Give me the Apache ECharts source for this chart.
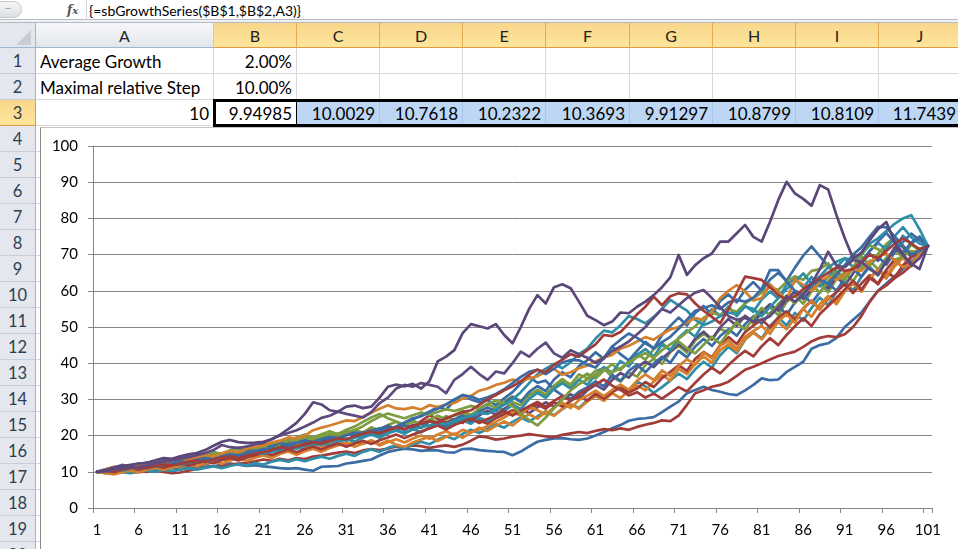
<!DOCTYPE html>
<html>
<head>
<meta charset="utf-8">
<script src="https://cdn.jsdelivr.net/npm/echarts/dist/echarts.min.js"></script>
<style>
  html,body{margin:0;padding:0;}
  body{width:958px;height:549px;overflow:hidden;position:relative;background:#fff;font-family:Lato,"Open Sans",sans-serif;}
  .a{position:absolute;box-sizing:border-box;}
  .colh{top:23px;height:25px;line-height:25px;text-align:center;font-size:16px;color:#222;border-right:1px solid #c3cbd5;border-bottom:1px solid #9eb6ce;background:linear-gradient(#f6f7f9,#e2e6eb);}
  .colh.sel{background:linear-gradient(#f9d68a,#fde59c);border-right:1px solid #e2aa55;border-bottom:1px solid #e09b3c;}
  .rowh{left:0;width:36px;height:26px;line-height:26px;text-align:center;font-size:16.5px;color:#2f3d50;background:#e4e8ee;border-bottom:1px solid #c6ced9;border-right:1px solid #9eb6ce;}
  .rowh.sel{background:linear-gradient(#f9d68a,#fde59c);border-bottom:1px solid #e09b3c;border-right:1px solid #e09b3c;}
  .cell{height:26px;line-height:27px;font-size:17px;color:#000;border-right:1px solid #d8d8d8;border-bottom:1px solid #d8d8d8;white-space:nowrap;overflow:hidden;}
  .r{text-align:right;padding-right:4px;}
  .l{text-align:left;padding-left:4px;}
  .blue{background:#bcd6f4;border-right:1px solid #a9c4e6;}
</style>
</head>
<body>
<!-- formula bar -->
<div class="a" style="left:0;top:0;width:958px;height:20px;background:#fff;border-bottom:1px solid #b7bcc4;"></div>
<div class="a" style="left:-10px;top:1px;width:32px;height:17px;border-radius:9px;border:1px solid #c2c6cc;background:linear-gradient(#f7f7f7,#dcdfe3);"></div>
<div class="a" style="left:5px;top:8px;width:6px;height:1px;background:#aab0b8;"></div>
<div class="a" style="left:86px;top:0;width:1px;height:20px;background:#d2d6dc;"></div>
<div class="a" style="left:67px;top:0px;height:20px;line-height:20px;font-family:'DejaVu Serif',serif;font-style:italic;font-weight:bold;font-size:12px;color:#555;">f<span style="font-size:10px">x</span></div>
<div class="a" style="left:89px;top:0px;height:20px;line-height:21px;font-size:14px;color:#000;white-space:nowrap;">{=sbGrowthSeries($B$1,$B$2,A3)}</div>
<div class="a" style="left:0;top:20px;width:958px;height:3px;background:#eef0f3;border-bottom:1px solid #b3b9c2;"></div>

<!-- corner -->
<div class="a" style="left:0;top:23px;width:36px;height:25px;background:#e4e8ee;border-right:1px solid #9eb6ce;border-bottom:1px solid #9eb6ce;"></div>
<div class="a" style="left:16px;top:30px;width:0;height:0;border-left:15px solid transparent;border-bottom:15px solid #c9cdd3;"></div>

<!-- column headers -->
<div class="a colh" style="left:36px;width:178px;">A</div>
<div class="a colh sel" style="left:214px;width:83px;">B</div>
<div class="a colh sel" style="left:297px;width:83px;">C</div>
<div class="a colh sel" style="left:380px;width:83px;">D</div>
<div class="a colh sel" style="left:463px;width:83px;">E</div>
<div class="a colh sel" style="left:546px;width:84px;">F</div>
<div class="a colh sel" style="left:630px;width:83px;">G</div>
<div class="a colh sel" style="left:713px;width:83px;">H</div>
<div class="a colh sel" style="left:796px;width:83px;">I</div>
<div class="a colh sel" style="left:879px;width:83px;">J</div>

<!-- row headers -->
<div class="a rowh" style="top:48px;">1</div>
<div class="a rowh" style="top:74px;">2</div>
<div class="a rowh sel" style="top:100px;">3</div>
<div class="a rowh" style="top:126px;">4</div>
<div class="a rowh" style="top:152px;">5</div>
<div class="a rowh" style="top:178px;">6</div>
<div class="a rowh" style="top:204px;">7</div>
<div class="a rowh" style="top:230px;">8</div>
<div class="a rowh" style="top:256px;">9</div>
<div class="a rowh" style="top:282px;">10</div>
<div class="a rowh" style="top:308px;">11</div>
<div class="a rowh" style="top:334px;">12</div>
<div class="a rowh" style="top:360px;">13</div>
<div class="a rowh" style="top:386px;">14</div>
<div class="a rowh" style="top:412px;">15</div>
<div class="a rowh" style="top:438px;">16</div>
<div class="a rowh" style="top:464px;">17</div>
<div class="a rowh" style="top:490px;">18</div>
<div class="a rowh" style="top:516px;">19</div>
<div class="a rowh" style="top:542px;">20</div>

<!-- row 1 -->
<div class="a cell l" style="left:36px;top:48px;width:178px;">Average Growth</div>
<div class="a cell r" style="left:214px;top:48px;width:83px;">2.00%</div>
<div class="a cell" style="left:297px;top:48px;width:83px;"></div>
<div class="a cell" style="left:380px;top:48px;width:83px;"></div>
<div class="a cell" style="left:463px;top:48px;width:83px;"></div>
<div class="a cell" style="left:546px;top:48px;width:84px;"></div>
<div class="a cell" style="left:630px;top:48px;width:83px;"></div>
<div class="a cell" style="left:713px;top:48px;width:83px;"></div>
<div class="a cell" style="left:796px;top:48px;width:83px;"></div>
<div class="a cell" style="left:879px;top:48px;width:83px;"></div>
<!-- row 2 -->
<div class="a cell l" style="left:36px;top:74px;width:178px;">Maximal relative Step</div>
<div class="a cell r" style="left:214px;top:74px;width:83px;">10.00%</div>
<div class="a cell" style="left:297px;top:74px;width:83px;"></div>
<div class="a cell" style="left:380px;top:74px;width:83px;"></div>
<div class="a cell" style="left:463px;top:74px;width:83px;"></div>
<div class="a cell" style="left:546px;top:74px;width:84px;"></div>
<div class="a cell" style="left:630px;top:74px;width:83px;"></div>
<div class="a cell" style="left:713px;top:74px;width:83px;"></div>
<div class="a cell" style="left:796px;top:74px;width:83px;"></div>
<div class="a cell" style="left:879px;top:74px;width:83px;"></div>
<!-- row 3 -->
<div class="a cell r" style="left:36px;top:100px;width:178px;">10</div>
<div class="a cell r" style="left:214px;top:100px;width:83px;border-right:1px solid #000;">9.94985</div>
<div class="a cell r blue" style="left:297px;top:100px;width:83px;">10.0029</div>
<div class="a cell r blue" style="left:380px;top:100px;width:83px;">10.7618</div>
<div class="a cell r blue" style="left:463px;top:100px;width:83px;">10.2322</div>
<div class="a cell r blue" style="left:546px;top:100px;width:84px;">10.3693</div>
<div class="a cell r blue" style="left:630px;top:100px;width:83px;">9.91297</div>
<div class="a cell r blue" style="left:713px;top:100px;width:83px;">10.8799</div>
<div class="a cell r blue" style="left:796px;top:100px;width:83px;">10.8109</div>
<div class="a cell r blue" style="left:879px;top:100px;width:83px;padding-right:5px;">11.7439</div>
<!-- selection outline -->
<div class="a" style="left:213px;top:99px;width:760px;height:28px;border:3px solid #000;"></div>

<!-- sheet gridlines under chart area (left strip) -->
<div class="a" style="left:36px;top:126px;width:4px;height:423px;background:repeating-linear-gradient(to bottom,#fff 0,#fff 25px,#d8d8d8 25px,#d8d8d8 26px);"></div>

<!-- chart object -->
<div class="a" style="left:40px;top:127px;width:930px;height:430px;background:#fff;border-left:1px solid #8a8a8a;border-top:1px solid #c4c4c4;"></div>
<div id="chart" class="a" style="left:41px;top:128px;width:917px;height:421px;"></div>

<script>
// ---------- data ----------
const categories = [];
for (let k = 1; k <= 101; k++) categories.push(String(k));

const yMin = 0, yMax = 100, yStep = 10;

const purpleA = [10,10.4,11.2,11.5,11.9,12.3,12.5,13.2,13.8,13.6,
14.3,14.8,15.2,16.0,17.2,18.3,18.8,18.2,18.0,18.1,
18.3,19.0,20.2,21.8,23.5,26.0,29.2,28.6,27.0,26.6,
28.0,28.3,27.6,28.0,30.5,33.5,34.1,33.6,34.3,33.0,
35.0,40.5,41.8,43.6,48.3,50.8,50.2,49.6,50.8,47.8,
45.5,50.0,55.0,58.8,56.5,61.0,61.8,60.7,57.0,53.1,
51.9,50.5,51.5,54.0,53.8,55.6,57.0,58.8,61.0,63.7,
69.9,64.4,67.1,69.0,70.3,73.6,73.6,75.9,78.2,74.9,
73.6,79.1,85.1,90.1,86.9,85.4,83.5,89.2,88.0,80.9,
74.5,69.0,70.5,74.0,77.0,79.0,73.5,70.0,67.5,66.0,72.4];

const purpleB = [10,10.2,10.6,11.0,11.3,11.4,11.8,12.4,12.8,13.2,
13.6,14.0,14.6,15.2,16.0,17.4,16.8,16.6,17.0,17.6,
18.0,19.0,20.0,20.7,21.5,22.5,23.6,24.9,25.5,26.6,
26.0,25.5,25.0,26.5,29.0,30.5,33.0,34.0,33.5,34.5,
34.0,33.5,31.7,35.4,37.0,39.0,37.0,35.4,37.7,37.2,
40.0,43.2,41.8,44.0,45.7,42.7,41.5,43.6,42.5,41.5,
40.1,41.5,43.3,44.6,46.0,48.0,50.0,52.5,55.0,54.0,
56.0,58.0,59.5,60.2,58.0,55.5,53.0,52.0,52.5,51.5,
52.0,53.0,55.5,58.5,57.0,59.0,62.0,66.0,70.8,67.0,
66.5,68.5,68.0,66.0,64.5,68.0,72.0,70.0,67.0,69.0,72.4];

const redA = [10,10.3,10.1,10.6,11.0,11.3,11.1,11.6,12.0,11.8,
12.2,12.8,13.1,12.7,13.4,13.9,14.3,13.8,14.5,15.0,
15.4,16.0,16.8,16.4,17.0,17.5,18.2,17.8,18.5,19.2,
19.0,19.8,20.5,21.0,20.6,21.5,22.3,21.8,22.6,23.4,
24.0,23.5,24.8,25.6,26.5,27.0,28.5,30.0,31.2,32.5,
33.6,35.0,36.8,38.2,37.5,39.6,41.0,42.5,41.8,43.6,
45.2,47.8,47.5,48.6,51.0,53.5,55.6,58.4,56.0,58.5,
59.3,59.0,56.5,54.5,52.8,51.0,55.0,59.5,63.9,63.5,
63.0,61.0,58.8,57.5,58.5,60.5,62.0,63.5,65.0,66.5,
65.5,66.0,68.0,70.0,69.0,71.0,73.0,74.5,73.0,71.5,72.4];

const orangeA = [10,10.6,11.4,11.1,10.8,11.5,12.0,12.6,12.3,12.9,
13.5,13.2,14.0,14.6,14.2,15.1,15.8,15.4,16.3,17.0,
17.3,18.1,18.6,19.5,19.2,20.0,21.5,22.2,22.8,23.5,
24.2,24.0,25.2,26.3,27.4,28.4,27.5,27.3,27.8,27.2,
28.4,27.9,28.6,29.0,30.2,31.0,32.4,33.0,34.0,34.6,
35.5,35.0,35.8,36.4,37.6,38.4,36.8,37.5,38.6,39.4,
40.5,41.6,42.3,44.0,44.8,46.0,47.2,46.5,48.0,49.3,
50.0,51.2,52.5,52.0,54.2,58.0,60.0,61.6,59.8,57.3,
58.0,61.8,59.5,57.5,63.2,61.6,60.0,62.5,64.0,63.0,
64.5,66.0,65.5,68.0,69.5,70.3,68.5,66.5,67.5,70.0,72.4];

const blueA = [10,10.4,10.2,10.9,11.3,11.0,11.6,12.1,11.8,12.4,
12.9,12.6,13.3,13.8,13.4,14.2,14.8,14.5,15.2,15.8,
16.0,16.6,16.3,17.2,17.9,18.5,18.2,19.0,19.6,19.3,
20.1,20.8,20.5,21.3,22.0,21.6,22.5,23.6,24.8,25.3,
26.5,27.4,28.6,30.0,31.2,30.8,29.9,30.6,31.5,32.8,
34.5,36.2,37.6,38.2,37.0,38.5,40.2,40.9,40.8,39.6,
38.8,41.5,44.6,46.5,48.2,47.0,45.5,44.2,45.8,47.3,
49.5,52.0,54.5,55.2,56.0,55.0,56.8,57.5,57.0,58.1,
60.5,65.7,65.7,62.5,60.0,59.0,61.5,63.0,62.0,64.5,
67.0,70.0,72.0,75.0,77.7,77.5,75.0,72.5,70.0,71.0,72.4];

const tealA = [10,10.1,10.5,10.3,10.8,11.2,11.0,11.5,11.9,12.3,
12.0,12.6,13.0,12.7,13.3,13.9,14.4,14.0,14.6,15.3,
15.0,15.6,16.1,16.8,16.4,17.2,17.8,17.5,18.3,18.9,
18.6,19.4,19.9,20.5,20.1,20.8,21.4,20.9,21.7,22.3,
22.8,23.5,23.2,24.0,24.8,25.5,26.3,26.0,27.2,28.5,
30.0,32.0,34.5,37.0,38.5,39.8,38.6,40.3,42.5,44.0,
46.8,49.0,48.5,50.5,53.0,52.2,51.0,52.8,55.0,57.5,
56.0,54.5,52.0,50.5,51.5,53.0,54.0,53.5,55.6,55.0,
53.0,55.5,58.0,60.5,62.5,64.8,62.0,64.0,66.5,68.0,
69.0,68.5,70.5,73.0,74.5,76.5,78.5,80.0,80.9,77.0,72.4];

const greenA = [10,10.5,10.9,11.4,11.1,11.8,12.2,11.9,12.6,13.1,
13.6,13.3,14.1,14.7,15.3,15.0,15.8,16.4,16.9,16.5,
17.2,17.8,18.4,19.1,18.7,19.5,18.9,19.8,20.4,20.0,
20.8,21.5,22.6,24.0,25.2,26.1,25.4,24.8,25.6,26.4,
25.8,26.5,27.3,26.8,27.5,28.2,27.6,28.8,29.6,29.0,
28.2,26.0,24.3,22.8,25.0,27.5,30.0,32.5,34.2,35.5,
36.8,38.3,37.5,38.6,40.2,41.6,42.8,41.5,43.6,45.2,
46.8,48.6,50.2,52.5,54.0,53.2,55.0,54.2,56.5,58.0,
59.5,61.0,60.2,62.5,64.0,63.0,65.5,66.0,67.6,64.0,
63.0,66.5,70.0,72.6,71.5,70.0,68.5,69.5,71.0,70.5,72.4];

const redLow = [10,10.2,10.4,10.1,9.8,9.9,10.1,10.3,10.0,9.6,
9.8,10.3,10.8,11.2,11.6,11.4,11.9,12.3,12.5,12.9,
13.4,13.0,13.6,13.2,13.8,13.5,14.2,14.5,14.9,15.3,
15.6,15.2,15.9,16.3,16.0,16.4,17.0,16.8,17.3,17.1,
16.6,17.0,17.3,16.9,17.5,18.6,19.8,19.5,18.9,19.2,
19.7,20.0,20.4,20.1,19.8,19.6,20.2,20.6,21.0,20.7,
21.3,21.8,21.5,22.0,21.6,22.4,23.0,23.5,24.2,24.0,
25.5,28.5,31.7,32.5,33.5,34.0,34.9,36.5,38.2,39.0,
40.0,41.0,42.0,42.6,43.2,44.5,46.0,47.0,47.5,47.2,
48.0,50.0,53.0,57.0,60.0,61.5,63.5,65.0,67.0,69.5,72.4];

const blueLow = [10,10.1,9.8,9.9,10.3,10.2,10.0,10.4,10.7,11.0,
11.2,11.0,11.4,11.8,11.5,11.9,12.3,12.0,11.6,11.8,
11.5,11.3,11.0,10.9,11.0,10.6,10.3,11.4,11.5,11.6,
12.3,12.6,13.0,13.4,14.5,15.5,16.0,16.4,16.2,15.8,
16.0,15.9,15.4,15.3,16.3,16.4,16.0,15.8,15.6,15.5,
14.6,15.6,17.0,18.3,18.8,19.2,19.3,19.0,18.8,19.2,
20.0,21.0,22.0,22.9,24.1,24.6,24.8,25.1,26.5,28.0,
29.4,31.7,32.6,33.5,32.6,32.1,31.5,31.2,32.5,34.0,
35.8,35.3,35.5,37.6,39.0,40.4,44.0,45.0,45.5,47.0,
50.0,52.0,54.0,57.0,60.0,62.0,64.0,66.0,68.0,70.0,72.4];

const orangeB = [10,9.6,9.3,9.9,10.3,9.9,10.6,11.1,10.5,11.2,
11.7,12.2,11.5,12.4,12.9,12.2,13.1,13.8,13.0,13.9,
14.5,13.8,14.9,15.6,14.7,15.7,16.4,15.5,16.6,17.3,
17.9,16.9,17.8,18.7,17.6,18.6,17.5,16.9,18.1,18.9,
19.6,18.5,19.7,20.6,19.4,20.9,21.7,22.6,23.8,25.0,
26.5,25.5,28.0,27.0,25.9,27.8,29.1,27.6,29.8,31.0,
32.4,30.9,32.6,34.1,32.7,35.2,36.9,35.3,38.0,36.4,
39.2,41.1,39.6,43.0,41.3,44.8,46.2,44.1,47.3,48.9,
50.3,48.1,51.6,53.5,51.2,55.0,57.2,54.8,58.3,56.9,
60.2,62.5,59.8,63.4,66.0,64.1,67.5,69.2,67.1,70.4,72.4];

const blueB = [10,10.4,10.9,11.5,11.0,11.8,12.6,12.1,12.9,12.4,
13.3,14.0,13.4,14.4,13.8,15.0,15.7,15.0,16.1,16.9,
16.2,17.3,18.0,17.1,18.3,19.0,18.1,19.3,20.0,19.0,
20.1,20.9,19.8,20.8,21.9,22.8,21.7,23.0,24.4,25.6,
26.6,27.9,27.2,29.6,31.2,30.0,29.2,29.8,28.4,30.3,
32.0,34.4,36.3,34.6,35.2,32.7,31.1,30.2,32.1,33.3,
35.0,33.6,36.8,35.1,37.9,39.6,37.5,39.9,41.8,40.1,
43.4,41.6,44.6,46.7,44.8,47.5,49.4,47.6,50.8,53.0,
50.9,53.8,55.9,53.4,56.8,58.9,56.6,59.7,62.1,60.0,
63.5,66.2,63.9,67.1,69.4,67.2,70.6,73.5,75.8,74.0,72.4];

const tealB = [10,9.6,10.1,10.6,10.0,10.8,11.3,10.8,11.6,12.0,
11.4,12.3,12.9,12.2,13.1,13.8,14.4,13.6,14.5,15.2,
14.5,15.5,16.2,15.6,16.9,16.1,17.3,18.0,17.2,18.4,
19.2,18.3,19.5,20.3,19.4,20.6,21.4,20.5,21.8,20.9,
22.1,23.0,22.0,23.4,24.2,23.3,24.9,24.0,25.6,26.8,
28.4,27.3,30.1,31.8,30.4,32.9,34.5,33.0,35.4,34.1,
36.8,38.9,37.4,40.6,39.1,42.3,43.9,41.8,45.2,43.5,
47.0,49.1,47.3,51.2,55.0,53.1,55.6,53.0,55.9,54.2,
57.6,59.8,57.9,61.7,63.4,60.9,63.8,61.2,64.0,66.3,
69.0,66.5,68.2,71.0,73.2,71.5,75.1,77.6,74.8,73.0,72.4];

const greenB = [10,10.4,10.0,10.7,11.3,10.9,11.8,12.4,11.9,12.6,
13.3,12.8,13.9,13.4,14.3,15.1,14.5,15.6,16.3,15.7,
16.8,16.1,17.2,18.1,17.4,18.9,19.6,18.8,20.1,19.4,
20.5,21.6,20.8,22.3,21.4,22.9,23.8,22.7,24.1,23.2,
24.5,23.6,25.4,24.2,26.1,25.3,27.2,26.1,28.0,27.1,
29.3,28.4,30.9,32.6,31.2,33.8,35.6,34.1,36.9,35.8,
37.9,38.6,36.2,34.9,37.4,36.3,39.5,41.2,39.8,43.1,
44.8,42.9,46.3,48.1,46.5,49.6,48.2,51.5,53.0,50.9,
53.8,55.6,53.2,56.9,58.7,56.4,59.8,62.0,59.6,63.3,
65.1,62.6,66.4,68.3,65.9,69.2,71.0,69.4,72.8,71.1,72.4];

const redB = [10,10.5,10.9,10.4,11.1,10.6,11.4,11.9,11.2,12.0,
12.6,11.9,12.8,13.4,12.7,13.6,14.2,13.5,14.5,15.1,
15.9,16.6,15.9,17.4,16.7,17.9,18.6,17.8,18.9,19.6,
18.8,19.9,20.7,21.5,20.6,22.4,21.6,23.1,22.3,24.0,
25.6,24.6,23.6,24.5,23.5,25.4,24.2,23.3,24.8,25.9,
27.0,25.9,27.5,28.6,27.4,29.2,28.0,29.6,30.9,29.7,
31.6,30.2,32.0,33.3,31.9,33.0,34.8,33.4,35.9,37.6,
39.4,37.9,41.2,43.1,41.6,45.0,47.2,45.3,48.6,50.4,
52.1,49.9,52.6,54.3,52.0,55.1,57.3,54.9,57.8,59.6,
61.9,59.4,62.0,64.3,61.8,65.2,63.7,67.0,69.4,71.2,72.4];

const purpleC = [10,10.6,11.2,11.9,11.3,12.1,11.5,12.4,13.2,12.6,
13.4,12.8,13.7,14.4,13.8,14.9,14.2,15.3,16.0,15.3,
16.5,17.4,16.7,18.3,19.4,20.1,19.2,18.4,19.6,20.5,
21.3,20.4,19.8,20.9,21.9,21.0,22.5,21.6,23.0,22.1,
24.0,23.1,22.3,23.7,24.8,23.9,25.6,26.9,25.8,27.4,
28.5,27.3,26.2,27.8,29.2,28.0,30.1,31.4,30.2,32.5,
34.0,32.7,35.4,37.3,36.0,38.8,40.5,38.9,41.3,43.2,
45.3,43.6,46.8,48.7,46.6,49.9,52.2,50.3,53.1,51.4,
54.2,56.3,54.5,57.6,59.8,57.7,60.4,62.9,60.6,63.9,
61.5,64.8,67.6,70.2,68.3,71.9,74.5,72.0,69.3,70.5,72.4];

const orangeC = [10,10.3,9.7,10.1,10.7,10.2,10.9,11.5,11.0,11.7,
11.2,12.1,12.6,12.0,12.9,13.7,13.1,14.2,14.9,14.3,
15.5,16.3,15.6,16.8,17.6,16.9,17.9,17.0,17.8,18.6,
17.6,18.5,17.7,18.5,17.3,18.2,19.0,18.1,19.2,20.0,
19.1,20.3,21.2,20.2,21.6,20.8,22.2,21.3,22.7,23.9,
22.8,24.6,25.9,24.7,26.6,25.5,27.4,28.7,27.4,29.4,
30.9,29.6,31.7,30.4,32.4,33.9,32.5,34.9,36.8,35.2,
38.4,37.0,39.8,41.9,40.1,43.6,45.2,43.3,46.6,48.4,
46.6,49.5,51.3,49.4,52.5,55.0,52.8,56.3,58.6,56.3,
59.8,62.1,59.8,63.5,65.7,63.4,66.8,69.1,66.7,70.0,72.4];

const tealC = [10,9.7,9.5,9.9,9.6,10.1,10.4,10.0,10.5,10.2,
10.6,11.0,10.6,11.1,11.5,11.0,11.6,12.1,11.7,12.4,
12.0,12.8,13.3,12.8,13.5,12.9,13.6,14.2,13.6,14.4,
15.0,14.4,15.5,16.2,15.5,16.6,17.3,16.6,17.6,18.3,
17.6,18.9,19.8,19.0,20.5,21.6,20.7,21.9,23.1,22.2,
23.8,25.0,23.9,25.3,26.7,25.6,27.3,28.7,27.6,29.8,
31.2,29.9,32.4,33.9,32.5,35.0,33.6,31.8,33.4,35.2,
37.1,35.6,38.3,40.4,38.8,42.2,44.5,42.8,46.5,48.6,
46.8,50.3,52.6,50.4,53.9,51.7,55.3,58.1,56.0,59.7,
62.4,60.1,63.9,66.7,64.2,68.4,71.5,75.2,73.0,74.6,72.4];

const blueC = [10,10.7,11.3,10.8,11.6,12.3,11.8,12.7,13.3,12.7,
13.6,14.3,13.7,14.7,15.4,14.8,15.9,16.6,15.9,16.9,
17.6,16.9,18.0,17.3,18.5,19.3,18.5,19.6,18.8,19.9,
20.7,19.9,21.0,20.2,21.4,22.3,21.5,22.8,22.0,23.5,
22.6,23.8,22.9,24.5,25.5,24.6,26.7,27.8,26.7,29.0,
30.6,29.3,32.1,33.7,32.3,35.5,37.5,36.1,39.2,40.8,
43.0,41.2,44.6,42.5,40.8,43.4,45.9,44.0,47.8,50.3,
52.6,50.4,53.9,55.8,53.5,57.2,59.0,56.8,60.3,62.4,
60.0,63.1,65.0,62.8,66.4,69.7,72.3,69.5,66.8,64.3,
67.0,69.8,67.4,71.0,73.6,76.0,73.2,70.5,73.3,75.0,72.4];

const redC = [10,10.3,9.9,10.6,11.1,10.6,11.2,11.7,11.1,11.8,
12.3,11.7,12.4,13.0,12.4,13.2,13.8,13.1,13.9,14.6,
15.3,14.6,15.5,16.2,15.4,16.3,17.0,16.2,17.1,17.8,
16.9,17.8,18.6,17.7,18.7,19.5,20.3,19.3,20.3,21.1,
22.0,22.8,21.7,22.9,23.8,24.7,23.5,24.6,25.6,26.8,
25.5,26.9,28.1,29.3,28.0,29.6,31.0,29.6,31.4,32.9,
34.1,35.5,33.8,32.6,31.1,32.0,30.5,31.6,30.2,31.8,
33.4,32.2,34.6,36.9,38.8,37.2,39.5,41.6,43.4,41.9,
44.7,46.9,45.0,47.8,50.2,52.4,50.3,53.6,55.8,58.0,
60.4,62.8,60.3,63.5,62.0,65.8,68.6,66.4,69.2,71.0,72.4];

const greenC = [10,10.5,11.0,10.6,11.3,10.9,11.7,12.3,11.8,12.5,
13.1,13.8,13.2,14.0,14.7,14.1,15.2,14.6,15.6,16.4,
17.1,16.4,17.6,18.5,19.5,20.3,19.5,20.4,21.2,20.4,
21.6,22.5,23.8,25.0,26.0,24.8,23.9,22.9,23.8,23.0,
24.4,25.5,24.5,25.7,26.8,25.7,27.4,28.7,27.6,29.4,
30.8,29.6,31.3,32.6,31.3,33.4,34.8,33.5,35.6,37.1,
35.8,38.0,39.7,38.1,40.6,42.5,41.0,43.9,45.6,43.7,
46.0,44.1,42.7,45.1,47.3,45.4,48.7,51.2,49.3,52.5,
55.3,53.1,56.4,58.7,56.5,59.6,61.9,59.4,62.7,65.5,
63.1,66.5,69.6,67.0,70.2,72.9,74.8,72.4,70.1,71.6,72.4];

// series in drawing order with colours
const seriesData = [blueLow, redLow, greenB, purpleC, tealC, orangeC,
                    blueB, redB, greenC, tealB, orangeB, blueC,
                    redC, greenA, tealA, orangeA, blueA, redA, purpleB, purpleA];
const seriesColors = ['#3b6ca3','#a23c38','#7e9c40','#5f4b80','#2f8ea8','#d5802e',
                      '#3b6ca3','#a23c38','#7e9c40','#2f8ea8','#d5802e','#3b6ca3',
                      '#a23c38','#7e9c40','#2f8ea8','#d5802e','#3b6ca3','#a23c38','#5f4b80','#5a4679'];

const chart = echarts.init(document.getElementById('chart'), null, {renderer:'canvas'});
chart.setOption({
  animation: false,
  backgroundColor: '#ffffff',
  grid: {left: 52, top: 18, right: 26, bottom: 41, containLabel: false},
  xAxis: {
    type: 'category',
    data: categories,
    boundaryGap: true,
    axisLine: {lineStyle: {color: '#868686', width: 1}},
    axisTick: {show: true, interval: 4, length: 5, lineStyle: {color: '#868686'}},
    axisLabel: {interval: 4, color: '#000', fontSize: 15, fontFamily: 'Lato', margin: 15},
    splitLine: {show: false}
  },
  yAxis: {
    type: 'value',
    min: yMin, max: yMax, interval: yStep,
    axisLine: {show: true, lineStyle: {color: '#868686', width: 1}},
    axisTick: {show: true, length: 5, lineStyle: {color: '#868686'}},
    axisLabel: {color: '#000', fontSize: 15, fontFamily: 'Lato', margin: 15},
    splitLine: {show: true, lineStyle: {color: '#868686', width: 1}}
  },
  series: seriesData.map((d, k) => ({
    type: 'line',
    data: d,
    symbol: 'none',
    smooth: false,
    lineStyle: {width: 2.7, color: seriesColors[k], join: 'round', cap: 'round'},
    itemStyle: {color: seriesColors[k]},
    emphasis: {disabled: true}
  }))
});
</script>
</body>
</html>
